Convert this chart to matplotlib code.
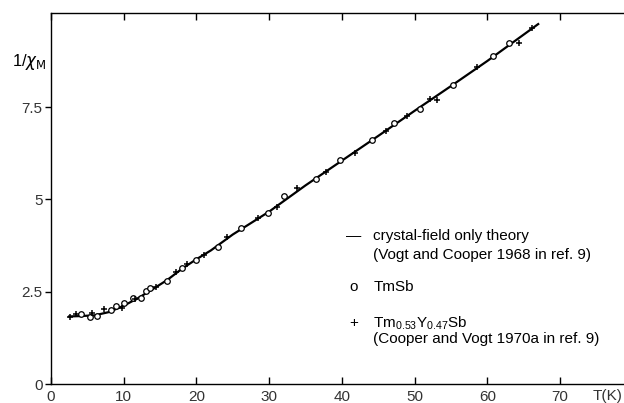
import numpy as np
import matplotlib.pyplot as plt

plt.rcParams['font.family'] = ['Liberation Sans', 'DejaVu Sans']

# crystal-field only theory curve
theory_T = [2.5, 4, 6, 8, 10, 12, 14, 16, 18, 20, 22, 25, 30, 35, 40, 45, 50, 55, 60, 67]
theory_y = [1.83, 1.84, 1.86, 1.95, 2.12, 2.33, 2.57, 2.82, 3.12, 3.38, 3.62, 4.05,
            4.67, 5.38, 6.05, 6.72, 7.40, 8.07, 8.75, 9.75]

# TmSb (open circles)
tmsb_T = [4.1, 5.3, 6.3, 8.3, 8.9, 10.1, 11.3, 12.4, 13.0, 13.6, 15.9, 18.0, 20.0,
          22.9, 26.1, 29.9, 32.1, 36.4, 39.7, 44.2, 47.2, 50.7, 55.3, 60.8, 63.0]
tmsb_y = [1.89, 1.82, 1.85, 2.0, 2.11, 2.2, 2.34, 2.34, 2.53, 2.59, 2.79, 3.13, 3.36,
          3.7, 4.22, 4.62, 5.08, 5.54, 6.07, 6.61, 7.06, 7.44, 8.1, 8.89, 9.23]

# Tm0.53Y0.47Sb (plus signs)
tmy_T = [2.6, 3.4, 5.7, 7.3, 9.7, 11.6, 14.5, 17.2, 18.7, 21.0, 24.2, 28.5, 31.1,
         33.8, 37.8, 41.8, 46.1, 48.9, 52.1, 53.1, 58.6, 64.3, 66.1]
tmy_y = [1.82, 1.89, 1.91, 2.02, 2.07, 2.29, 2.62, 3.04, 3.24, 3.5, 3.98, 4.51, 4.79,
         5.30, 5.73, 6.27, 6.84, 7.26, 7.71, 7.70, 8.6, 9.23, 9.64]

xticks = [0, 10, 20, 30, 40, 50, 60, 70]
yticks = [0, 2.5, 5, 7.5]

fig = plt.figure(figsize=(6.24, 4.03), dpi=100)
ax = fig.add_axes([51/624, 19/403, 573/624, 371/403])

ax.plot(theory_T, theory_y, color='black', lw=1.6, zorder=2)
ax.plot(tmsb_T, tmsb_y, 'o', mfc='white', mec='black', ms=4, mew=0.9, ls='none', zorder=3)
ax.plot(tmy_T, tmy_y, '+', color='black', ms=4.5, mew=1.1, ls='none', zorder=3)

ax.set_xlim(0, 78.8)
ax.set_ylim(0, 10.05)
ax.spines['right'].set_visible(False)
for s in ['left', 'bottom', 'top']:
    ax.spines[s].set_linewidth(1.0)

ax.set_xticks(xticks)
ax.set_xticklabels([str(t) for t in xticks])
ax.set_yticks(yticks)
ax.set_yticklabels(['0', '2.5', '5', '7.5'])
ax.tick_params(axis='x', direction='in', length=5, width=1, top=True,
               labelsize=11, labelcolor='#333333', pad=4)
ax.tick_params(axis='y', direction='out', length=4, width=1,
               labelsize=11, labelcolor='#333333', pad=2)

ax.text(-0.6, 8.73, r'1/$\chi_{\mathrm{M}}$', fontsize=12, ha='right', va='center')
ax.text(76.5, -0.13, 'T(K)', fontsize=11, color='#333333', ha='center', va='top')

# legend drawn as text
lx, tx = 41.6, 44.3
fs = 11
ax.text(lx, 4.0, '\u2014', fontsize=fs, ha='center', va='center')
ax.text(tx, 4.0, 'crystal-field only theory', fontsize=fs, va='center')
ax.text(tx, 3.5, '(Vogt and Cooper 1968 in ref. 9)', fontsize=fs, va='center')
ax.text(lx, 2.62, 'o', fontsize=fs, ha='center', va='center')
ax.text(tx, 2.62, 'TmSb', fontsize=fs, va='center')
ax.text(lx, 1.65, '+', fontsize=fs, ha='center', va='center')
ax.text(tx, 1.65, r'Tm$\mathregular{_{0.53}}$Y$\mathregular{_{0.47}}$Sb', fontsize=fs, va='center')
ax.text(tx, 1.22, '(Cooper and Vogt 1970a in ref. 9)', fontsize=fs, va='center')

fig.savefig('out.png', dpi=100)
